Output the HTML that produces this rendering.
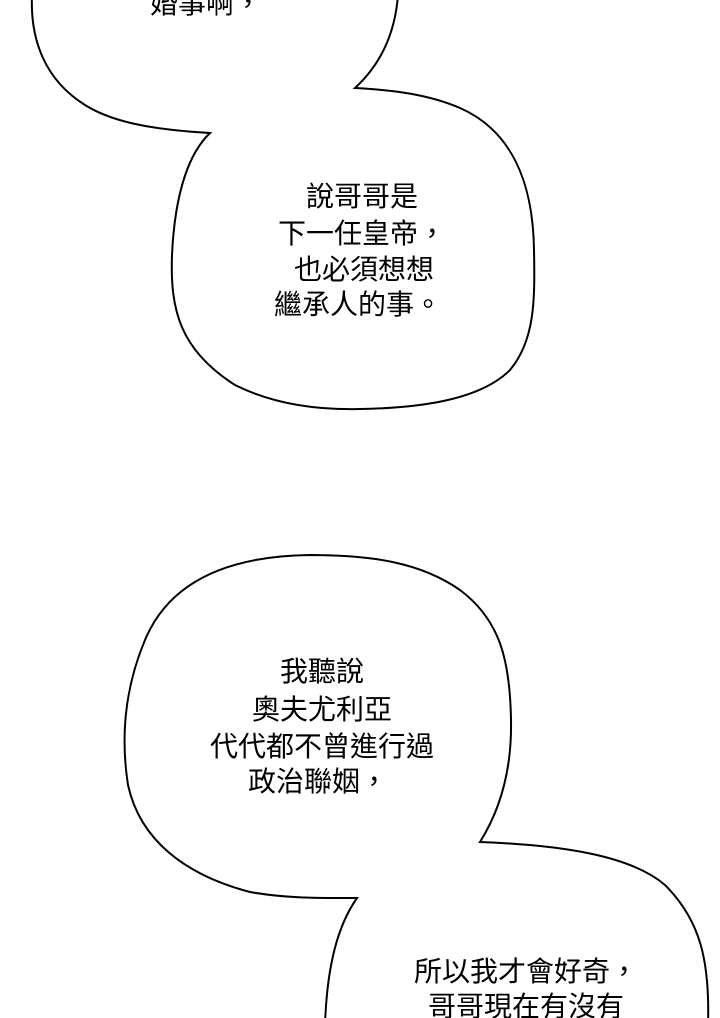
<!DOCTYPE html>
<html><head><meta charset="utf-8"><style>
html,body{margin:0;padding:0;background:#fff;}
svg{display:block}
text{font-family:"Liberation Sans","Noto Sans CJK TC",sans-serif;font-size:28px;fill:#000;text-anchor:middle}
</style></head><body>
<svg width="720" height="1018" viewBox="0 0 720 1018">
<g fill="#fff" stroke="#000" stroke-width="2" stroke-linejoin="miter">
<path d="M32,-5 C30,40 45,80 85,105 C115,124 160,130 210,133 C190,152 175,190 172,255 C170,310 180,350 235,385 C275,405 320,410 360,409 C420,408 480,400 510,370 C535,340 535,300 534,250 C533,180 510,130 460,108 C430,95 395,90 355,88 C380,65 395,35 398,-5 Z"/>
<path d="M310,555 C230,556 170,580 145,640 C124,690 121,740 128,785 C140,840 185,875 250,892 C290,899 325,898 357,898 C338,925 327,965 325,1025 L708,1025 C710,960 700,920 665,885 C630,855 560,845 480,842 C500,810 512,770 511,720 C510,660 500,620 460,590 C420,562 370,555 310,555 Z"/>
</g>
<text x="206" y="13">婚事啊，</text>
<text x="362" y="206">說哥哥是</text>
<text x="362" y="243">下一任皇帝，</text>
<text x="364" y="279">也必須想想</text>
<text x="358" y="314">繼承人的事。</text>
<text x="322" y="681">我聽說</text>
<text x="322" y="719">奧夫尤利亞</text>
<text x="322" y="756">代代都不曾進行過</text>
<text x="318" y="791">政治聯姻，</text>
<text x="526" y="981">所以我才會好奇，</text>
<text x="526" y="1016">哥哥現在有沒有</text>
</svg>
</body></html>
